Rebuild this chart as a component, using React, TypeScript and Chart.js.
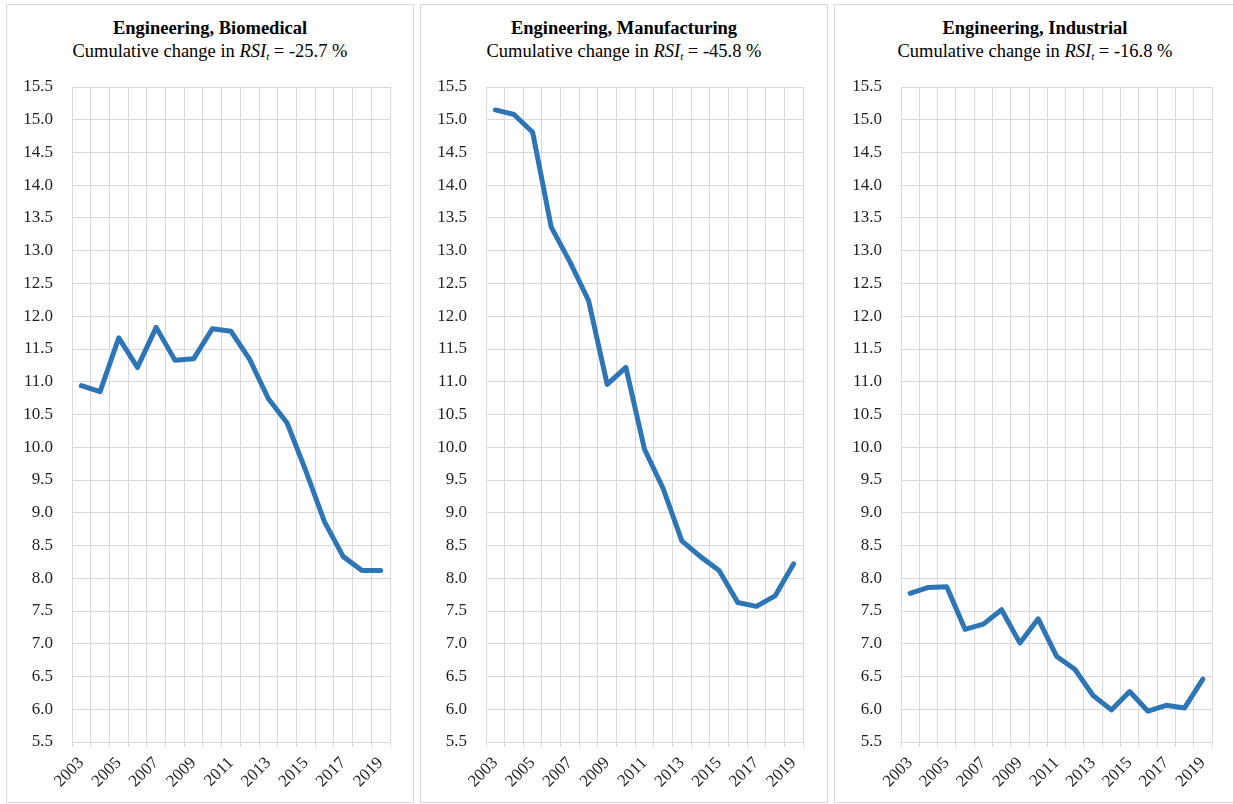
import React, { useEffect, useRef } from "react";
import { Chart, registerables } from "chart.js";

Chart.register(...registerables);

const YEARS = ["2003", "2004", "2005", "2006", "2007", "2008", "2009", "2010", "2011", "2012", "2013", "2014", "2015", "2016", "2017", "2018", "2019"];
const BIOMEDICAL = [10.94, 10.85, 11.67, 11.22, 11.83, 11.33, 11.35, 11.81, 11.77, 11.34, 10.74, 10.37, 9.64, 8.86, 8.33, 8.12, 8.12];
const MANUFACTURING = [15.15, 15.08, 14.81, 13.36, 12.83, 12.24, 10.96, 11.22, 9.97, 9.37, 8.57, 8.33, 8.12, 7.63, 7.57, 7.73, 8.22];
const INDUSTRIAL = [7.77, 7.86, 7.87, 7.22, 7.3, 7.52, 7.01, 7.38, 6.81, 6.61, 6.21, 5.99, 6.27, 5.97, 6.06, 6.02, 6.46];
const TITLES = ["Engineering, Biomedical", "Engineering, Manufacturing", "Engineering, Industrial"];
const CHANGES = ["-25.7", "-45.8", "-16.8"];
const Y_MIN = 5.5;
const Y_MAX = 15.5;
const Y_STEP = 0.5;

const FONT = "'Times New Roman', 'Liberation Serif', serif";
const GRID = "#d9d9d9";

type PanelProps = {
  left: number;
  width: number;
  plotLeft: number;
  plotRight: number;
  title: string;
  change: string;
  values: number[];
};

function Panel({ left, width, plotLeft, plotRight, title, change, values }: PanelProps) {
  const ref = useRef<HTMLCanvasElement | null>(null);
  const top = 4;
  const height = 799;
  const innerW = width - 2;
  const innerH = height - 2;
  const innerLeft = left + 1;
  const innerTop = top + 1;
  const plotTop = 87;
  const plotBottom = 742;

  useEffect(() => {
    if (!ref.current) return;
    const yWidth = plotLeft - innerLeft;
    const rightPad = innerLeft + innerW - plotRight;
    const topPad = plotTop - innerTop;
    const xHeight = innerTop + innerH - plotBottom;
    const chart = new Chart(ref.current, {
      type: "line",
      data: {
        labels: YEARS,
        datasets: [
          {
            data: values,
            borderColor: "#2E75B6",
            backgroundColor: "#2E75B6",
            borderWidth: 5,
            pointRadius: 0,
            tension: 0,
            borderCapStyle: "round",
            borderJoinStyle: "round",
            fill: false,
          },
        ],
      },
      options: {
        responsive: false,
        animation: false,
        layout: { padding: { top: topPad, right: rightPad, left: 0, bottom: 0 } },
        plugins: { legend: { display: false }, tooltip: { enabled: false }, title: { display: false } },
        scales: {
          x: {
            type: "category",
            offset: true,
            grid: { offset: true, color: GRID, lineWidth: 1, drawTicks: true, tickLength: 5, tickColor: GRID },
            border: { color: GRID },
            ticks: {
              autoSkip: false,
              maxRotation: 45,
              minRotation: 45,
              padding: 6,
              color: "#1f1f1f",
              font: { family: FONT, size: 17 },
              callback: (_v: any, i: number) => (i % 2 === 0 ? YEARS[i] : ""),
            },
            afterFit: (s: any) => {
              s.height = xHeight;
            },
          },
          y: {
            min: Y_MIN,
            max: Y_MAX,
            grid: { color: GRID, lineWidth: 1, drawTicks: false },
            border: { color: GRID },
            ticks: {
              stepSize: Y_STEP,
              padding: 19,
              color: "#1f1f1f",
              font: { family: FONT, size: 17 },
              callback: (v: any) => Number(v).toFixed(1),
            },
            afterFit: (s: any) => {
              s.width = yWidth;
            },
          },
        },
      },
    });
    return () => chart.destroy();
  }, []);

  return (
    <div
      style={{
        position: "absolute",
        left,
        top,
        width,
        height,
        boxSizing: "border-box",
        border: `1px solid ${GRID}`,
        background: "#fff",
      }}
    >
      <div
        style={{
          position: "absolute",
          left: 0,
          top: 12,
          width: innerW,
          textAlign: "center",
          fontFamily: FONT,
          fontWeight: "bold",
          fontSize: 18.5,
          lineHeight: "22px",
          color: "#000",
          whiteSpace: "nowrap",
        }}
      >
        {title}
      </div>
      <div
        style={{
          position: "absolute",
          left: 0,
          top: 35,
          width: innerW,
          textAlign: "center",
          fontFamily: FONT,
          fontSize: 18.5,
          lineHeight: "22px",
          color: "#000",
          whiteSpace: "nowrap",
        }}
      >
        Cumulative change in <i>RSI</i>
        <i style={{ fontSize: 11, verticalAlign: "-3px", lineHeight: 0 }}>t</i> = {change} %
      </div>
      <canvas
        ref={ref}
        width={innerW}
        height={innerH}
        style={{ position: "absolute", left: 0, top: 0, width: innerW, height: innerH, display: "block" }}
      />
    </div>
  );
}

export default function App() {
  return (
    <div style={{ position: "absolute", left: 0, top: 0, width: 1233, height: 804, overflow: "hidden", background: "#fff" }}>
      <Panel left={6} width={408} plotLeft={72} plotRight={390} title={TITLES[0]} change={CHANGES[0]} values={BIOMEDICAL} />
      <Panel left={420} width={408} plotLeft={486} plotRight={803} title={TITLES[1]} change={CHANGES[1]} values={MANUFACTURING} />
      <Panel left={834} width={402} plotLeft={901} plotRight={1212} title={TITLES[2]} change={CHANGES[2]} values={INDUSTRIAL} />
    </div>
  );
}
